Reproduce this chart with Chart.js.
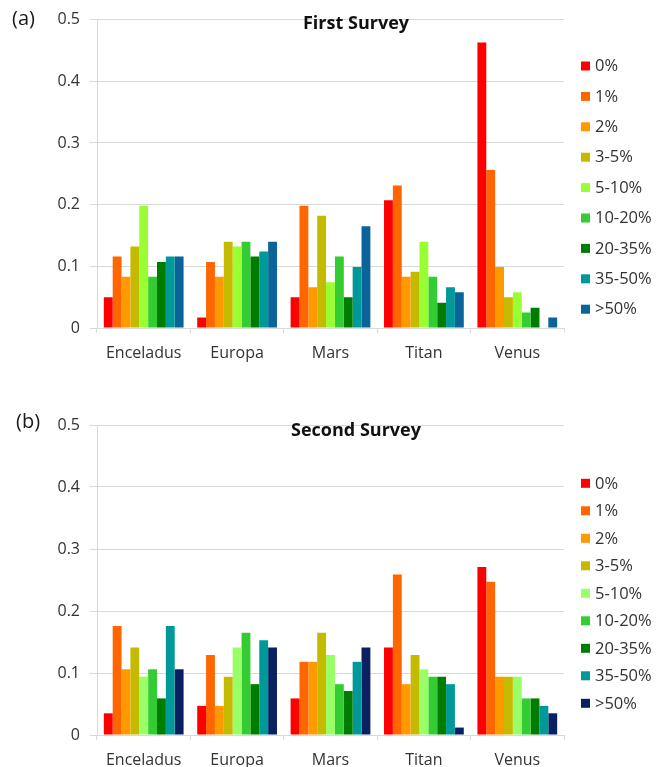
<!DOCTYPE html>
<html>
<head>
<meta charset="utf-8">
<title>Survey responses by target body</title>
<script src="https://cdn.jsdelivr.net/npm/chart.js@4.4.1/dist/chart.umd.min.js"></script>
<style>
  html, body { margin: 0; padding: 0; background: #ffffff; }
  #wrap { position: relative; width: 669px; height: 767px; overflow: hidden; }
  .panel { position: absolute; left: 0; width: 669px; }
  #top { top: 0; height: 385px; }
  #bottom { top: 385px; height: 382px; }
</style>
</head>
<body>
<div id="wrap">
  <div class="panel" id="top"><canvas id="chartA"></canvas></div>
  <div class="panel" id="bottom"><canvas id="chartB"></canvas></div>
</div>
<script>
// Target bodies along the x axis
const bodies = ['Enceladus', 'Europa', 'Mars', 'Titan', 'Venus'];
// Response bins (one bar series each)
const bins = ['0%', '1%', '2%', '3-5%', '5-10%', '10-20%', '20-35%', '35-50%', '>50%'];
// Y axis tick values
const yTicks = [0, 0.1, 0.2, 0.3, 0.4, 0.5];

// First survey: fraction of responses per bin, one array per body
const firstEnceladus = [0.050, 0.116, 0.083, 0.132, 0.198, 0.083, 0.107, 0.116, 0.116];
const firstEuropa    = [0.017, 0.107, 0.083, 0.140, 0.132, 0.140, 0.116, 0.124, 0.140];
const firstMars      = [0.050, 0.198, 0.066, 0.182, 0.074, 0.116, 0.050, 0.099, 0.165];
const firstTitan     = [0.207, 0.231, 0.083, 0.091, 0.140, 0.083, 0.041, 0.066, 0.058];
const firstVenus     = [0.463, 0.256, 0.099, 0.050, 0.058, 0.025, 0.033, 0.000, 0.017];

// Second survey
const secondEnceladus = [0.035, 0.176, 0.106, 0.141, 0.094, 0.106, 0.059, 0.176, 0.106];
const secondEuropa    = [0.047, 0.129, 0.047, 0.094, 0.141, 0.165, 0.082, 0.153, 0.141];
const secondMars      = [0.059, 0.118, 0.118, 0.165, 0.129, 0.082, 0.071, 0.118, 0.141];
const secondTitan     = [0.141, 0.259, 0.082, 0.129, 0.106, 0.094, 0.094, 0.082, 0.012];
const secondVenus     = [0.271, 0.247, 0.094, 0.094, 0.094, 0.059, 0.059, 0.047, 0.035];

// Bin colours
const colorsA = ['#ff0000', '#ff6600', '#ff9900', '#c4bb00', '#99ff33', '#33cc33', '#007d00', '#009999', '#0a6399'];
const colorsB = ['#ff0000', '#ff6600', '#ff9900', '#c4bb00', '#99ff66', '#33cc33', '#007d00', '#009999', '#0a2060'];

const FONT = "'Open Sans', 'Liberation Sans', sans-serif";
const TEXT = '#333333';
const GRID = '#d9d9d9';

// Build one dataset per bin from the per-body rows
function buildDatasets(rows, colors) {
  return bins.map((bin, i) => ({
    label: bin,
    data: rows.map(r => r[i]),
    backgroundColor: colors[i],
    borderWidth: 0,
    categoryPercentage: 0.854,
    barPercentage: 1.0
  }));
}

// Panel letter, survey title and the square-marker legend on the right
const decorations = {
  id: 'decorations',
  afterDraw(chart, args, opts) {
    const ctx = chart.ctx;
    ctx.save();
    ctx.textBaseline = 'middle';
    // panel letter
    ctx.fillStyle = '#1a1a1a';
    ctx.font = '20px ' + FONT;
    ctx.textAlign = 'left';
    ctx.fillText(opts.letter, opts.letterX, opts.letterY);
    // title
    ctx.fillStyle = '#111111';
    ctx.font = 'bold 18px ' + FONT;
    ctx.textAlign = 'center';
    ctx.fillText(opts.title, opts.titleX, opts.titleY);
    // legend
    ctx.font = '16.5px ' + FONT;
    ctx.textAlign = 'left';
    chart.data.datasets.forEach((ds, i) => {
      const y = opts.legendY + i * opts.legendStep;
      ctx.fillStyle = ds.backgroundColor;
      ctx.fillRect(opts.legendX, y - 4.5, 9, 9);
      ctx.fillStyle = TEXT;
      ctx.fillText(ds.label, opts.legendX + 14, y + 0.5);
    });
    ctx.restore();
  }
};

function makeChart(canvasId, rows, colors, padTop, xAxisHeight, deco) {
  return new Chart(document.getElementById(canvasId), {
    type: 'bar',
    data: { labels: bodies, datasets: buildDatasets(rows, colors) },
    plugins: [decorations],
    options: {
      responsive: true,
      maintainAspectRatio: false,
      animation: false,
      layout: { padding: { top: padTop, left: 0, right: 105, bottom: 0 } },
      plugins: {
        legend: { display: false },
        tooltip: { enabled: false },
        decorations: deco
      },
      scales: {
        x: {
          offset: true,
          grid: {
            offset: true,
            drawOnChartArea: false,
            drawTicks: true,
            tickLength: 5,
            color: GRID
          },
          border: { display: true, color: GRID },
          ticks: {
            color: TEXT,
            font: { family: FONT, size: 16 },
            padding: 11,
            maxRotation: 0
          },
          afterFit(scale) { scale.height = xAxisHeight; }
        },
        y: {
          min: 0,
          max: 0.5,
          afterBuildTicks(scale) { scale.ticks = yTicks.map(v => ({ value: v })); },
          grid: { color: GRID, tickLength: 7, drawTicks: true },
          border: { display: true, color: GRID },
          ticks: {
            color: TEXT,
            font: { family: FONT, size: 16 },
            padding: 10,
            callback: v => String(v)
          },
          afterFit(scale) { scale.width = 97; }
        }
      }
    }
  });
}

makeChart('chartA',
  [firstEnceladus, firstEuropa, firstMars, firstTitan, firstVenus],
  colorsA, 19, 57,
  { letter: '(a)', letterX: 12, letterY: 19, title: 'First Survey', titleX: 356, titleY: 24,
    legendX: 581, legendY: 66, legendStep: 30.4 });

makeChart('chartB',
  [secondEnceladus, secondEuropa, secondMars, secondTitan, secondVenus],
  colorsB, 40, 32,
  { letter: '(b)', letterX: 16, letterY: 37, title: 'Second Survey', titleX: 356, titleY: 46,
    legendX: 581, legendY: 98.3, legendStep: 27.5 });
</script>
</body>
</html>
